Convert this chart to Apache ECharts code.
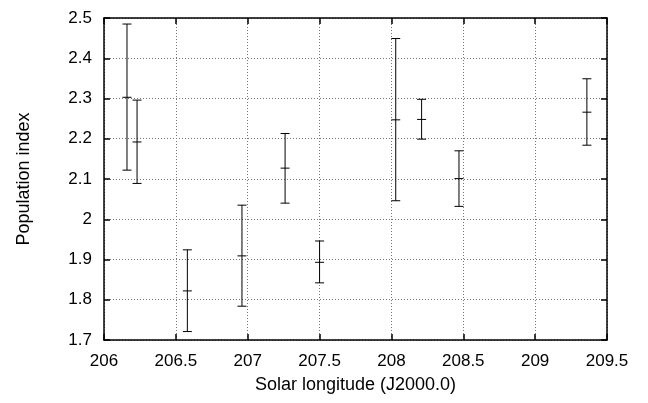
<!DOCTYPE html>
<html>
<head>
<meta charset="utf-8">
<script src="https://cdn.jsdelivr.net/npm/echarts@6/dist/echarts.min.js"></script>
<style>
  html, body { margin: 0; padding: 0; background: #fff; }
  #chart { width: 648px; height: 403px; }
</style>
</head>
<body>
<div id="chart"></div>
<script>
// solar longitude of each bin
const longitudes = [206.16, 206.23, 206.58, 206.96, 207.26, 207.50, 208.03, 208.21, 208.47, 209.36];
// population index and its error range
const indexValues = [2.303, 2.192, 1.822, 1.909, 2.127, 1.893, 2.247, 2.248, 2.101, 2.266];
const lowValues   = [2.122, 2.089, 1.721, 1.784, 2.040, 1.842, 2.046, 2.199, 2.032, 2.184];
const highValues  = [2.485, 2.296, 1.924, 2.035, 2.213, 1.946, 2.449, 2.298, 2.170, 2.349];

const font = "Liberation Sans, Arial, sans-serif";
const chart = echarts.init(document.getElementById("chart"));

const points = longitudes.map((x, i) => [x, indexValues[i], lowValues[i], highValues[i]]);

function renderErrorBar(params, api) {
  const x = api.value(0);
  const c = api.coord([x, api.value(1)]);
  const lo = api.coord([x, api.value(2)]);
  const hi = api.coord([x, api.value(3)]);
  const w = 4.5;
  const style = { stroke: "#000", lineWidth: 1 };
  return {
    type: "group",
    children: [
      { type: "line", shape: { x1: c[0], y1: hi[1], x2: c[0], y2: lo[1] }, style },
      { type: "line", shape: { x1: c[0] - w, y1: hi[1], x2: c[0] + w, y2: hi[1] }, style },
      { type: "line", shape: { x1: c[0] - w, y1: lo[1], x2: c[0] + w, y2: lo[1] }, style },
      { type: "line", shape: { x1: c[0] - w, y1: c[1], x2: c[0] + w, y2: c[1] }, style }
    ]
  };
}

const frameLine = { show: true, onZero: false, lineStyle: { color: "#000", width: 1.5 } };
const tickIn = { show: true, inside: true, length: 6, lineStyle: { color: "#000", width: 1.5 } };

const option = {
  animation: false,
  grid: { left: 104, right: 41, top: 18, bottom: 63 },
  xAxis: [{
    type: "value",
    min: 206,
    max: 209.5,
    interval: 0.5,
    name: "Solar longitude (J2000.0)",
    nameLocation: "middle",
    nameGap: 36,
    nameTextStyle: { fontFamily: font, fontSize: 18, color: "#000" },
    axisLine: frameLine,
    axisTick: tickIn,
    axisLabel: { fontFamily: font, fontSize: 17, color: "#000", margin: 13 },
    splitLine: { show: true, lineStyle: { color: "#777", width: 1, type: [1, 2] } }
  }, {
    type: "value",
    position: "top",
    min: 206,
    max: 209.5,
    interval: 0.5,
    axisLine: frameLine,
    axisTick: tickIn,
    axisLabel: { show: false },
    splitLine: { show: false }
  }],
  yAxis: [{
    type: "value",
    min: 1.7,
    max: 2.5,
    interval: 0.1,
    name: "Population index",
    nameLocation: "middle",
    nameGap: 71,
    nameTextStyle: { fontFamily: font, fontSize: 18, color: "#000" },
    axisLine: frameLine,
    axisTick: tickIn,
    axisLabel: {
      fontFamily: font, fontSize: 17, color: "#000", margin: 12,
      formatter: v => String(+v.toFixed(1))
    },
    splitLine: { show: true, lineStyle: { color: "#777", width: 1, type: [1, 2] } }
  }, {
    type: "value",
    position: "right",
    min: 1.7,
    max: 2.5,
    interval: 0.1,
    axisLine: frameLine,
    axisTick: tickIn,
    axisLabel: { show: false },
    splitLine: { show: false }
  }],
  series: [{
    type: "custom",
    renderItem: renderErrorBar,
    xAxisIndex: 0,
    yAxisIndex: 0,
    encode: { x: 0, y: [1, 2, 3] },
    data: points,
    clip: false
  }]
};

chart.setOption(option);
</script>
</body>
</html>
